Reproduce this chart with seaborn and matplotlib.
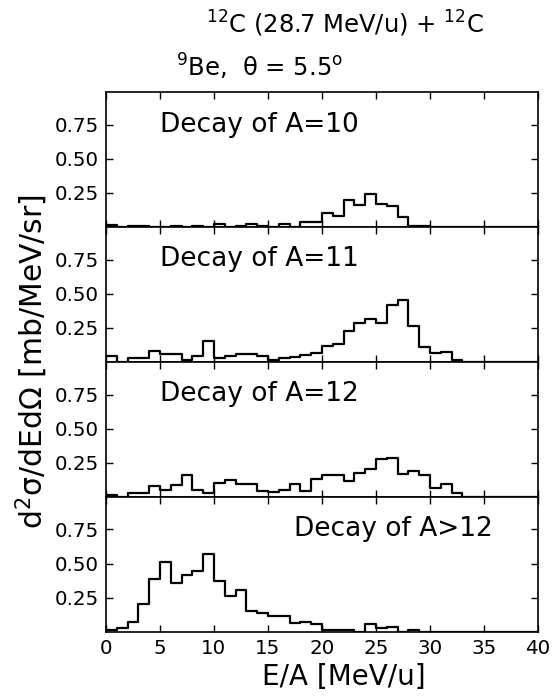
import numpy as np
import pandas as pd
import seaborn as sns
import matplotlib.pyplot as plt

# 1 MeV/u bins from 0 to 40
bin_centres = np.arange(0, 40, 1) + 0.5

# cross sections, one value per bin
decay_a10 = [0.012, 0, 0.01, 0.01, 0, 0, 0.01, 0, 0.01, 0,
             0.025, 0, 0.01, 0.02, 0.01, 0, 0.02, 0, 0.036, 0.036,
             0.10, 0.078, 0.196, 0.16, 0.238, 0.17, 0.155, 0.07, 0.01, 0.01,
             0, 0, 0, 0, 0, 0, 0, 0, 0, 0]
decay_a11 = [0.045, 0, 0.03, 0.025, 0.08, 0.06, 0.06, 0.012, 0.04, 0.15,
             0.025, 0.045, 0.057, 0.06, 0.045, 0.012, 0.025, 0.037, 0.05, 0.065,
             0.118, 0.128, 0.227, 0.286, 0.315, 0.283, 0.42, 0.456, 0.266, 0.106,
             0.064, 0.069, 0.012, 0, 0, 0, 0, 0, 0, 0]
decay_a12 = [0.012, 0, 0.025, 0.03, 0.076, 0.052, 0.084, 0.16, 0.047, 0.025,
             0.103, 0.12, 0.096, 0.096, 0.044, 0.037, 0.052, 0.093, 0.042, 0.13,
             0.162, 0.157, 0.113, 0.174, 0.206, 0.278, 0.288, 0.165, 0.192, 0.16,
             0.064, 0.093, 0.027, 0, 0, 0, 0, 0, 0, 0]
decay_a_gt12 = [0.012, 0.027, 0.07, 0.204, 0.387, 0.512, 0.357, 0.414, 0.443, 0.571,
                0.37, 0.264, 0.308, 0.153, 0.138, 0.116, 0.116, 0.062, 0.071, 0.057,
                0.015, 0.015, 0.015, 0, 0.054, 0.027, 0.037, 0, 0.015, 0,
                0, 0, 0, 0, 0, 0, 0, 0, 0, 0]

panel_labels = ["Decay of A=10", "Decay of A=11", "Decay of A=12", "Decay of A>12"]
label_x = [5, 5, 5, 17.4]
series = [decay_a10, decay_a11, decay_a12, decay_a_gt12]

sns.set_style("ticks")
plt.rcParams["font.family"] = ["DejaVu Sans"]
plt.rcParams["mathtext.fontset"] = "dejavusans"
for key in ["text.color", "axes.labelcolor", "xtick.color", "ytick.color", "axes.edgecolor"]:
    plt.rcParams[key] = "black"

fig, axes = plt.subplots(4, 1, sharex=True, figsize=(5.54, 6.96), dpi=100)
fig.subplots_adjust(left=0.1913, right=0.971, bottom=0.0924, top=0.8678, hspace=0)

for ax, vals, label, tx in zip(axes, series, panel_labels, label_x):
    df = pd.DataFrame({"E": bin_centres, "xs": vals})
    sns.histplot(data=df, x="E", weights="xs", binwidth=1, binrange=(0, 40),
                 element="step", fill=False, color="black", linewidth=1.6, ax=ax)
    ax.set_xlim(0, 40)
    ax.set_ylim(0, 0.99)
    ax.set_yticks([0.25, 0.5, 0.75])
    ax.set_yticklabels(["0.25", "0.50", "0.75"])
    ax.set_xticks(range(0, 41, 5))
    ax.set_ylabel("")
    ax.set_xlabel("")
    ax.tick_params(direction="in", top=True, right=True, length=5, width=1,
                   labelsize=14.3, pad=5)
    for sp in ax.spines.values():
        sp.set_linewidth(1.2)
    ax.text(tx, 0.70, label, fontsize=19, va="baseline")

axes[-1].set_xlabel("E/A [MeV/u]", fontsize=20)
axes[-1].xaxis.set_label_coords(0.55, -0.235)

fig.text(32 / 554, 0.5 * (1 - 92 / 696 + 1 - 631.7 / 696), r"d$^2$σ/dEdΩ [mb/MeV/sr]",
         rotation=90, ha="center", va="center", fontsize=21.5)

fig.text(344.5 / 554, 1 - 33 / 696, r"$^{12}$C (28.7 MeV/u) + $^{12}$C",
         ha="center", va="baseline", fontsize=17.5)
fig.text(176 / 554, 1 - 77 / 696, r"$^{9}$Be,  θ = 5.5$^{\mathrm{o}}$",
         ha="left", va="baseline", fontsize=17.5)

fig.savefig("out.png", dpi=100)
